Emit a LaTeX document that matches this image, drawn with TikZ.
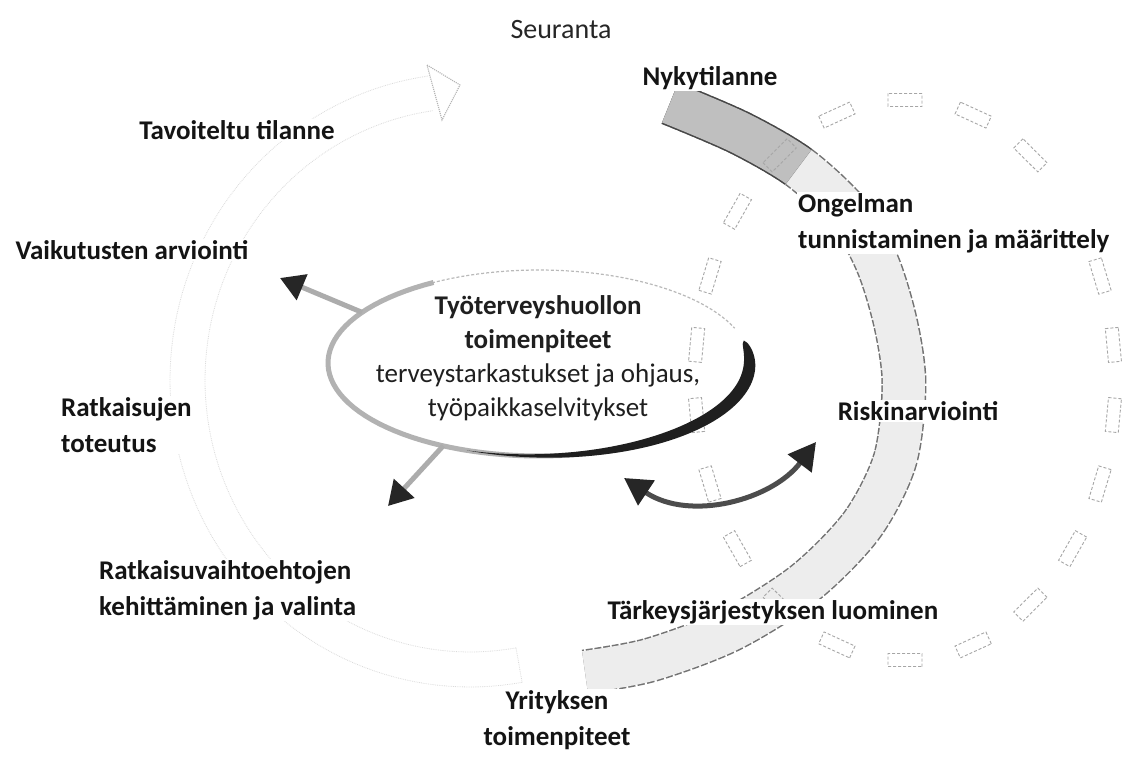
\documentclass[tikz,border=0pt]{standalone}
\usepackage{fontspec}
\setmainfont{Carlito}
\usetikzlibrary{arrows.meta,decorations.markings}
\begin{document}
\begin{tikzpicture}[x=1pt,y=-1pt,
  lbl/.style={font=\fontsize{27}{36}\selectfont\bfseries, fill=white, inner sep=1pt, text=black!92},
  rlbl/.style={font=\fontsize{28}{34}\selectfont, fill=white, inner sep=1pt, text=black!85},
  faint/.style={gray!28, line width=0.8, densely dotted},
  boxst/.style={draw=gray!70, densely dashed, line width=0.9},
  conn/.style={gray!65, line width=5, -{Triangle[length=24pt,width=27pt,color=black!85]}},
  dconn/.style={black!70, line width=5, {Triangle[length=27pt,width=29pt,color=black!85]}-{Triangle[length=27pt,width=29pt,color=black!85]}}
]
\useasboundingbox (0,0) rectangle (1133,760);
\fill[white] (0,0) rectangle (1133,760);

% faint left ring (band)
\draw[faint] plot[domain=80:262, samples=90] ({470+300*cos(\x)},{380+307*sin(\x)});
\draw[faint] plot[domain=80:262, samples=90] ({470+265*cos(\x)},{380+272*sin(\x)});
\draw[faint] ({470+300*cos(80)},{380+307*sin(80)}) -- ({470+265*cos(80)},{380+272*sin(80)});
% hollow arrow head of the ring
\draw[gray!60, densely dotted, line width=1.1] (427,65) -- (460,85) -- (442,120) -- cycle;

% grey band (right part of the cycle)
\def\bandpath{(670,103) (740,133) (800,168) (850,215) (878,265) (896,325) (904,385) (895,460) (862,525) (805,583) (730,630) (650,660) (585,672)}
\draw[line width=45, black!55, dash pattern=on 7pt off 2pt] plot[smooth] coordinates \bandpath;
\draw[line width=42, gray!14] plot[smooth] coordinates \bandpath;
\begin{scope}
  \clip (600,40) -- (890,45) -- (770,205) -- (600,205) -- cycle;
  \draw[line width=45, black!72] plot[smooth] coordinates \bandpath;
  \draw[line width=42, gray!50] plot[smooth] coordinates \bandpath;
\end{scope}

% dashed ellipse of boxes on the right
\path[postaction={decorate, decoration={markings,
   mark=between positions 0.0227 and 0.99 step 0.04545 with {\draw[boxst] (-17,-6.5) rectangle (17,6.5);}}}]
   (905,380) ellipse [x radius=210, y radius=280];

% central ellipse
\draw[gray!55, line width=1.2, densely dashed] plot[domain=238:338, samples=40] ({539+211*cos(\x)},{363+93*sin(\x)});
\draw[gray!60, line width=5] plot[domain=60:240, samples=60] ({539+211*cos(\x)},{363+93*sin(\x)});
\fill[black!88] plot[domain=-14:110, samples=70] ({539+(211+6*sin(180*sqrt((\x+14)/124)))*cos(\x)},{363+(93+6*sin(180*sqrt((\x+14)/124)))*sin(\x)})
   -- plot[domain=110:-14, samples=70] ({539+(211-7*sin(180*sqrt((\x+14)/124)))*cos(\x)},{363+(93-7*sin(180*sqrt((\x+14)/124)))*sin(\x)}) -- cycle;

\coordinate (e1) at ({539+211*cos(213)},{363+93*sin(213)});
\coordinate (t1) at (280,278);
\coordinate (e2) at ({539+211*cos(117)},{363+93*sin(117)});
\coordinate (t2) at (388,506);
\coordinate (c1) at (624,478);
\coordinate (c2) at (816,442);
\draw[conn] (e1) -- (t1);
\draw[conn] (e2) -- (t2);
\draw[dconn] (c1) .. controls (690,522) and (772,500) .. (c2);

% texts
\node[rlbl] (seur) at (561,30) {Seuranta};
\node[lbl] (nyky) at (710,78) {Nykytilanne};
\node[lbl] (tavo) at (237,130) {Tavoiteltu tilanne};
\node[lbl, anchor=west, align=left] (onge) at (797,223) {Ongelman\\tunnistaminen ja määrittely};
\node[lbl] (vaik) at (132,250) {Vaikutusten arviointi};
\node[lbl] (riski) at (918,411) {Riskinarviointi};
\node[lbl, anchor=west, align=left] (ratk) at (60,425) {Ratkaisujen\\toteutus};
\node[lbl, anchor=west, align=left] (ratkv) at (98,590) {Ratkaisuvaihtoehtojen\\kehittäminen ja valinta};
\node[lbl] (tark) at (773,612) {Tärkeysjärjestyksen luominen};
\node[lbl, align=center] (yrit) at (557,720) {Yrityksen\\toimenpiteet};
\node[align=center, inner sep=0pt, font=\fontsize{27}{34}\selectfont, text=black!88] (tth) at (538,358)
  {{\bfseries Työterveyshuollon}\\{\bfseries toimenpiteet}\\terveystarkastukset ja ohjaus,\\työpaikkaselvitykset};
\end{tikzpicture}
\end{document}
